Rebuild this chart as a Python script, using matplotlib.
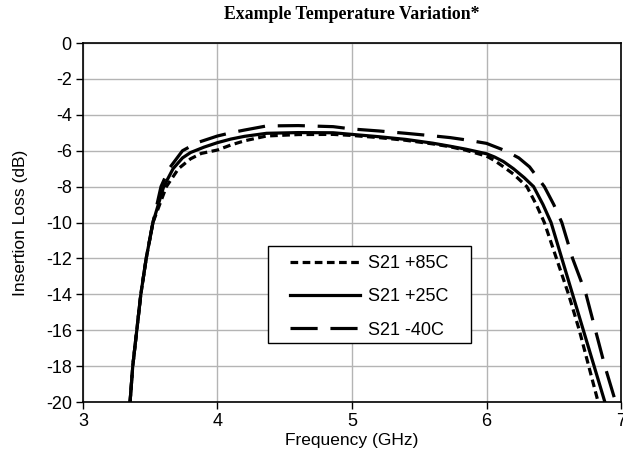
import matplotlib

matplotlib.use("Agg")
import matplotlib.pyplot as plt
from matplotlib.patches import Rectangle

# values
freq_85 = [3.35, 3.37, 3.40, 3.43, 3.47, 3.52, 3.57, 3.62, 3.71, 3.80, 3.88, 4.0, 4.1, 4.2,
           4.365, 4.6, 4.86, 5.0, 5.2, 5.4, 5.6, 5.73, 5.85, 6.0, 6.06, 6.125, 6.2, 6.30,
           6.37, 6.43, 6.52, 6.61, 6.69, 6.76, 6.83]
loss_85 = [-20, -18, -16, -14, -12, -10, -9, -8, -7, -6.45, -6.15, -5.96, -5.68, -5.45,
           -5.18, -5.1, -5.09, -5.15, -5.27, -5.42, -5.62, -5.78, -5.98, -6.3, -6.55, -6.89,
           -7.3, -8, -9, -10, -12, -14, -16, -18, -20]

freq_25 = [3.35, 3.37, 3.40, 3.43, 3.47, 3.52, 3.56, 3.60, 3.67, 3.74, 3.80, 3.9, 4.0, 4.1,
           4.2, 4.365, 4.6, 4.86, 5.0, 5.2, 5.4, 5.6, 5.73, 5.85, 6.0, 6.06, 6.125, 6.2,
           6.28, 6.35, 6.42, 6.48, 6.56, 6.64, 6.72, 6.80, 6.88]
loss_25 = [-20, -18, -16, -14, -12, -10, -9, -8, -7, -6.4, -6.1, -5.8, -5.55, -5.35,
           -5.2, -5.03, -4.99, -5.0, -5.09, -5.22, -5.37, -5.58, -5.75, -5.92, -6.17, -6.35,
           -6.6, -7.0, -7.5, -8, -9, -10, -12, -14, -16, -18, -20]

freq_m40 = [3.35, 3.37, 3.40, 3.43, 3.47, 3.52, 3.55, 3.58, 3.64, 3.74, 3.85, 4.0, 4.1,
            4.2, 4.365, 4.6, 4.86, 5.0, 5.2, 5.4, 5.6, 5.73, 5.85, 6.0, 6.14, 6.24, 6.32,
            6.43, 6.50, 6.56, 6.64, 6.74, 6.81, 6.88, 6.96]
loss_m40 = [-20, -18, -16, -14, -12, -10, -9, -8, -7, -6, -5.55, -5.18, -5.0, -4.85,
            -4.62, -4.6, -4.66, -4.79, -4.9, -5.03, -5.17, -5.27, -5.4, -5.59, -6.0, -6.4,
            -6.9, -8, -9, -10, -12, -14, -16, -18, -20]

labels = ["S21 +85C", "S21 +25C", "S21 -40C"]
x_ticks = [3, 4, 5, 6, 7]
y_ticks = [0, -2, -4, -6, -8, -10, -12, -14, -16, -18, -20]

LW = 2.3
SANS = "Liberation Sans"

fig = plt.figure(figsize=(6.23, 4.66), dpi=100, facecolor="white")
ax = fig.add_axes([0.1332, 0.1373, 0.8636, 0.7704])

ax.plot(freq_85, loss_85, color="black", lw=LW, dashes=(2.4, 1.4), label=labels[0])
ax.plot(freq_25, loss_25, color="black", lw=LW, label=labels[1])
ax.plot(freq_m40, loss_m40, color="black", lw=LW, dashes=(8.5, 4.0), label=labels[2])

ax.set_xlim(3, 7)
ax.set_ylim(-20, 0)
ax.set_xticks(x_ticks)
ax.set_yticks(y_ticks)
ax.set_xticklabels([str(t) for t in x_ticks], fontfamily=SANS, fontsize=13)
ax.set_yticklabels([str(t) for t in y_ticks], fontfamily=SANS, fontsize=13)
ax.tick_params(direction="out", length=5, width=1, color="black", pad=3)

ax.grid(True, color="#b4b4b4", linewidth=1)
ax.set_axisbelow(True)
for spine in ax.spines.values():
    spine.set_color("black")
    spine.set_linewidth(1.2)

ax.set_xlabel("Frequency (GHz)", fontfamily=SANS, fontsize=12.5, labelpad=2)
ax.set_ylabel("Insertion Loss (dB)", fontfamily=SANS, fontsize=12.5, labelpad=13)
ax.set_title("Example Temperature Variation*", fontfamily="Liberation Serif",
             fontweight="bold", fontsize=12.8, pad=17)

# legend box drawn separately so its padding can match the reference
ax.add_patch(Rectangle((0.3439, 0.1643), 0.3773, 0.2702, transform=ax.transAxes,
                       facecolor="white", edgecolor="black", linewidth=1.0, zorder=4))
leg = ax.legend(loc="upper left", bbox_to_anchor=(0.3848, 0.4095), frameon=False,
                prop={"family": SANS, "size": 13},
                handlelength=3.9, labelspacing=0.9, borderpad=0, handletextpad=0.4,
                borderaxespad=0)
leg.set_zorder(5)

plt.savefig("out.png", dpi=100, facecolor="white")
